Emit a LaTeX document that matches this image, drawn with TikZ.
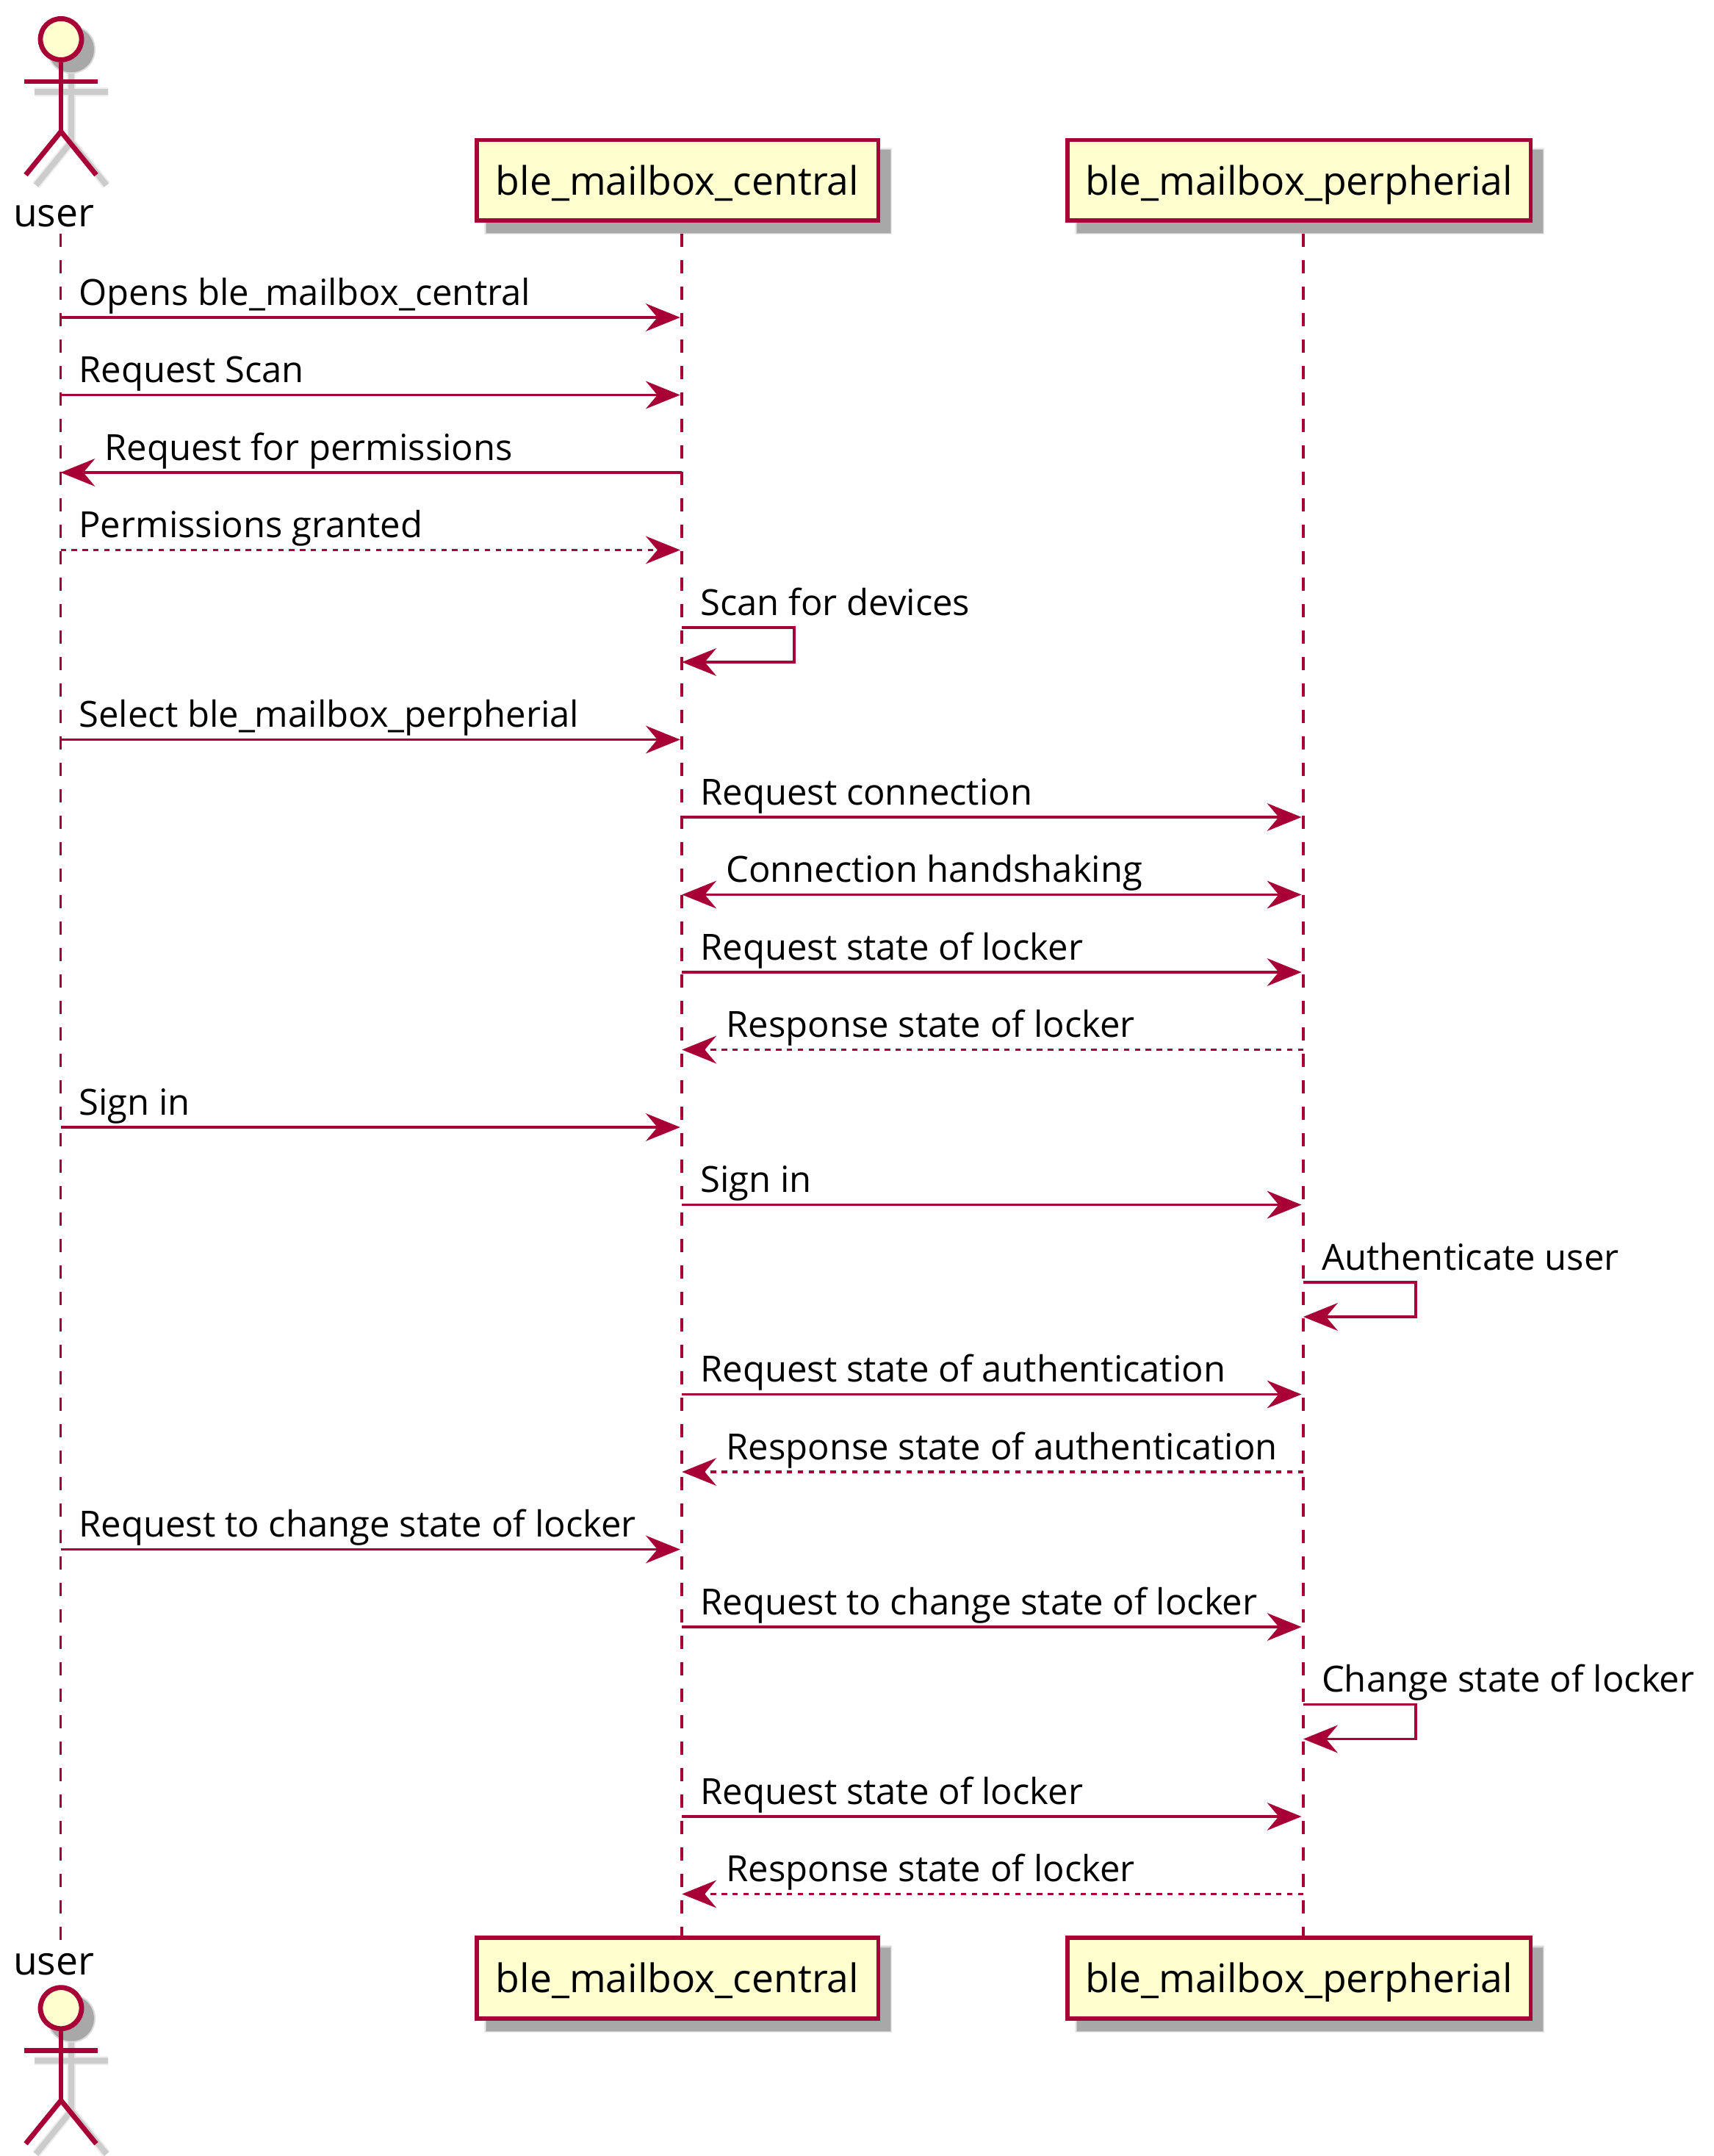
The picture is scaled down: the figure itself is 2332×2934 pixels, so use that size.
\documentclass[tikz,border=0pt]{standalone}
\usepackage{fontspec}
\setmainfont{Open Sans}
\usetikzlibrary{arrows.meta,backgrounds}
\definecolor{umlred}{HTML}{A80036}
\definecolor{umlfill}{HTML}{FEFECE}
\newcommand{\msgsize}{\fontsize{49}{49}\selectfont}
\newcommand{\partsize}{\fontsize{53.5}{53.5}\selectfont}
\tikzset{
  life/.style={draw=umlred,line width=3.7pt,dash pattern=on 18pt off 18pt},
  msg/.style={draw=umlred,line width=3.7pt,-{Stealth[length=47pt,width=38pt,inset=16pt,line width=0pt]},shorten >=2.5pt},
  msgleft/.style={msg,shorten >=0pt},
  msgboth/.style={draw=umlred,line width=3.7pt,{Stealth[length=47pt,width=38pt,inset=16pt,line width=0pt]}-{Stealth[length=47pt,width=38pt,inset=16pt,line width=0pt]},shorten >=2.5pt},
  ret/.style={msgleft,dash pattern=on 7.4pt off 7.4pt},
  selfmsg/.style={msgleft,line join=miter},
  lbl/.style={anchor=base west,inner sep=0pt,outer sep=0pt,font=\msgsize,text=black},
  actorlbl/.style={anchor=base west,inner sep=0pt,outer sep=0pt,font=\partsize,text=black},
  participant/.style={draw=umlred,fill=umlfill,line width=5.5pt,inner sep=0pt,outer sep=0pt,font=\partsize,text=black,text height=45pt,text depth=5.7pt,align=center},
  limb/.style={draw=umlred,line width=6.8pt},
  limbshadow/.style={draw=#1,line width=8pt},
}
\newcommand{\boxshadow}[1]{%
  \fill[black!8] ([shift={(10,10)}]#1.north west) rectangle ([shift={(19,19)}]#1.south east);
  \fill[black!22] ([shift={(12,12)}]#1.north west) rectangle ([shift={(18,18)}]#1.south east);
  \fill[black!34] ([shift={(13.5,13.5)}]#1.north west) rectangle ([shift={(16.5,16.5)}]#1.south east);
}
\newcommand{\actorfigure}[1]{%
  \begin{scope}[shift={(0,#1)}]
    \begin{scope}[shift={(14,14)}]
      \draw[limbshadow=black!7,line width=12pt] (83,85) -- (83,179) (33,111) -- (133,111) (35,238) -- (83,179) -- (131,238);
      \draw[limbshadow=black!20] (83,85) -- (83,179) (33,111) -- (133,111) (35,238) -- (83,179) -- (131,238);
      \fill[black!15] (83,53.4) circle (33);
      \fill[black!34] (83,53.4) circle (31);
    \end{scope}
    \draw[limb] (83,85) -- (83,179);
    \draw[limb] (33,111) -- (133,111);
    \draw[limb] (35,238) -- (83,179) -- (131,238);
    \draw[limb,fill=umlfill] (83,53.4) circle (28);
  \end{scope}
}
\begin{document}
\begin{tikzpicture}[x=1pt,y=-1pt]
\useasboundingbox (0,0) rectangle (2332,2934);

\foreach \i/\y in {1/432,2/537.5,3/643,4/748.5,5/854,6/1006.5,7/1112,8/1217.5,9/1323,10/1428.5,11/1534,12/1639.5,13/1745,14/1897.5,15/2003,16/2108.5,17/2214,18/2319.5,19/2472,20/2577.5}{
  \coordinate (u\i) at (82.5,\y);
  \coordinate (c\i) at (928.3,\y);
  \coordinate (p\i) at (1774,\y);
}
\coordinate (c5r) at (1081.3,854);   \coordinate (c5s) at (1081.3,901);   \coordinate (c5e) at (928.3,901);
\coordinate (p13r) at (1927,1745);   \coordinate (p13s) at (1927,1792);   \coordinate (p13e) at (1774,1792);
\coordinate (p18r) at (1927,2319.5); \coordinate (p18s) at (1927,2366.5); \coordinate (p18e) at (1774,2366.5);

% lifelines
\coordinate (uTop) at (82.5,318.3); \coordinate (uBot) at (82.5,2640);
\coordinate (cTop) at (928.3,318.3); \coordinate (cBot) at (928.3,2637);
\coordinate (pTop) at (1774,318.3); \coordinate (pBot) at (1774,2637);
\draw[life] (uTop) -- (uBot);
\draw[life] (cTop) -- (cBot);
\draw[life] (pTop) -- (pBot);

% participants
\node[participant,minimum width=546.5pt,minimum height=109.5pt] (central) at (922,245.35) {ble\_mailbox\_central};
\node[participant,minimum width=630.5pt,minimum height=109.5pt] (perph) at (1768,245.35) {ble\_mailbox\_perpherial};
\node[participant,minimum width=546.5pt,minimum height=110pt] (centralB) at (922,2692.2) {ble\_mailbox\_central};
\node[participant,minimum width=630.5pt,minimum height=110pt] (perphB) at (1768,2692.2) {ble\_mailbox\_perpherial};
\begin{scope}[on background layer]
  \fill[white] (0,0) rectangle (2332,2934);
  \boxshadow{central}\boxshadow{perph}\boxshadow{centralB}\boxshadow{perphB}
\end{scope}

% actors
\actorfigure{0}
\actorfigure{2679.3}
\node[actorlbl] (userTop) at (18,308.5) {user};
\node[actorlbl] (userBot) at (18,2687.5) {user};

% messages
\draw[msg] (u1) -- (c1);
\draw[msg] (u2) -- (c2);
\draw[msgleft] (c3) -- (u3);
\draw[ret,shorten >=2.5pt] (u4) -- (c4);
\draw[selfmsg] (c5) -- (c5r) -- (c5s) -- (c5e);
\draw[msg] (u6) -- (c6);
\draw[msg] (c7) -- (p7);
\draw[msgboth] (c8) -- (p8);
\draw[msg] (c9) -- (p9);
\draw[ret] (p10) -- (c10);
\draw[msg] (u11) -- (c11);
\draw[msg] (c12) -- (p12);
\draw[selfmsg] (p13) -- (p13r) -- (p13s) -- (p13e);
\draw[msg] (c14) -- (p14);
\draw[ret] (p15) -- (c15);
\draw[msg] (u16) -- (c16);
\draw[msg] (c17) -- (p17);
\draw[selfmsg] (p18) -- (p18r) -- (p18s) -- (p18e);
\draw[msg] (c19) -- (p19);
\draw[ret] (p20) -- (c20);

% labels
\node[lbl] (t1) at ([shift={(25,-17)}]u1) {Opens ble\_mailbox\_central};
\node[lbl] (t2) at ([shift={(25,-17)}]u2) {Request Scan};
\node[lbl] (t3) at ([shift={(60,-17)}]u3) {Request for permissions};
\node[lbl] (t4) at ([shift={(25,-17)}]u4) {Permissions granted};
\node[lbl] (t5) at ([shift={(25,-17)}]c5) {Scan for devices};
\node[lbl] (t6) at ([shift={(25,-17)}]u6) {Select ble\_mailbox\_perpherial};
\node[lbl] (t7) at ([shift={(25,-17)}]c7) {Request connection};
\node[lbl] (t8) at ([shift={(60,-17)}]c8) {Connection handshaking};
\node[lbl] (t9) at ([shift={(25,-17)}]c9) {Request state of locker};
\node[lbl] (t10) at ([shift={(60,-17)}]c10) {Response state of locker};
\node[lbl] (t11) at ([shift={(25,-17)}]u11) {Sign in};
\node[lbl] (t12) at ([shift={(25,-17)}]c12) {Sign in};
\node[lbl] (t13) at ([shift={(25,-17)}]p13) {Authenticate user};
\node[lbl] (t14) at ([shift={(25,-17)}]c14) {Request state of authentication};
\node[lbl] (t15) at ([shift={(60,-17)}]c15) {Response state of authentication};
\node[lbl] (t16) at ([shift={(25,-17)}]u16) {Request to change state of locker};
\node[lbl] (t17) at ([shift={(25,-17)}]c17) {Request to change state of locker};
\node[lbl] (t18) at ([shift={(25,-17)}]p18) {Change state of locker};
\node[lbl] (t19) at ([shift={(25,-17)}]c19) {Request state of locker};
\node[lbl] (t20) at ([shift={(60,-17)}]c20) {Response state of locker};
\end{tikzpicture}
\end{document}
